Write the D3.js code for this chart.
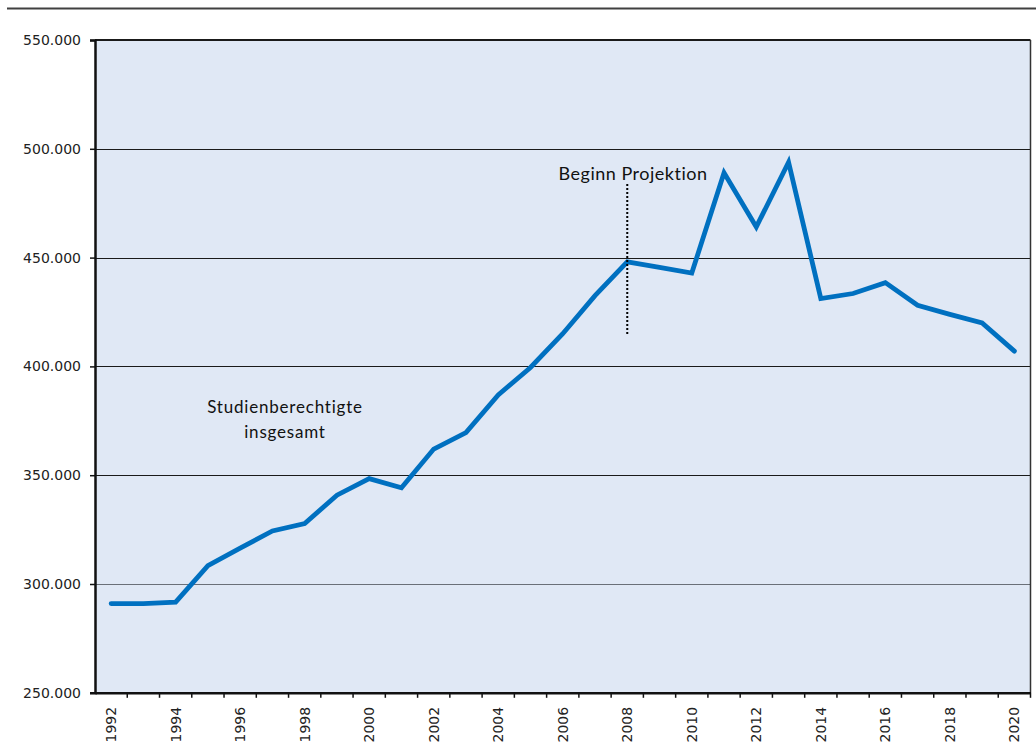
<!DOCTYPE html>
<html><head><meta charset="utf-8">
<script src="https://cdn.jsdelivr.net/npm/d3@7"></script>
<style>body{margin:0;background:#fff}svg{display:block}</style>
</head><body>
<svg id="c" width="1036" height="756"></svg>
<script>
const years = d3.range(1992, 2021).map(String);
const values = [291000, 291000, 291700, 308400, 316500, 324400, 327800, 340800, 348400, 344200,
  362000, 369600, 386900, 399500, 415000, 432500, 448000, 445500, 442900, 489000,
  464100, 493800, 431200, 433500, 438500, 428100, 423900, 420000, 407000];
const yTicks = [250000, 300000, 350000, 400000, 450000, 500000, 550000];
const labelYears = years.filter((d, i) => i % 2 === 0);
const projectionYear = "2008";
const annoSeries = ["Studienberechtigte", "insgesamt"];
const annoProj = "Beginn Projektion";

const svg = d3.select("#c");
const L = 95, R = 1030.5, T = 40, B = 692.8;
const x = d3.scaleBand().domain(years).range([L, R]);
const y = d3.scaleLinear().domain([250000, 550000]).range([B, T]);
const fmt = v => d3.format(",")(v).replace(/,/g, ".");

// top rule
svg.append("line").attr("x1", 7).attr("x2", 1036).attr("y1", 8.5).attr("y2", 8.5)
  .attr("stroke", "#404040").attr("stroke-width", 2);

// plot background
svg.append("rect").attr("x", L).attr("y", T).attr("width", R - L).attr("height", B - T)
  .attr("fill", "#E0E8F5");

// gridlines
svg.append("g").selectAll("line").data(yTicks.filter(v => v > 250000 && v < 550000)).join("line")
  .attr("x1", L).attr("x2", R).attr("y1", d => Math.round(y(d)) + 0.5).attr("y2", d => Math.round(y(d)) + 0.5)
  .attr("stroke", d => d === 300000 ? "#6a6f78" : "#1a1a1a").attr("stroke-width", 1);

// frame top & right
svg.append("line").attr("x1", L).attr("x2", R).attr("y1", T).attr("y2", T).attr("stroke", "#1a1a1a").attr("stroke-width", 2);
svg.append("line").attr("x1", R).attr("x2", R).attr("y1", T).attr("y2", B).attr("stroke", "#333", ).attr("stroke-width", 1.5);

// y axis
const yAxis = svg.append("g").attr("transform", `translate(${L},0)`)
  .call(d3.axisLeft(y).tickValues(yTicks).tickFormat(fmt).tickSize(5).tickPadding(9));
yAxis.select(".domain").attr("stroke", "#111").attr("stroke-width", 2.5);
yAxis.selectAll(".tick line").attr("stroke", "#111").attr("stroke-width", 1.5);
yAxis.selectAll("text").attr("font-family", "DejaVu Sans").attr("font-size", 14).attr("fill", "#222");

// x axis
const xAxis = svg.append("g").attr("transform", `translate(0,${B})`)
  .call(d3.axisBottom(x).tickSize(0).tickFormat(d => labelYears.includes(d) ? d : ""));
xAxis.select(".domain").attr("stroke", "#111").attr("stroke-width", 2.5);
xAxis.selectAll(".tick text")
  .attr("font-family", "DejaVu Sans").attr("font-size", 14).attr("fill", "#222")
  .attr("transform", "rotate(-90)").attr("text-anchor", "end")
  .attr("x", -14).attr("y", 0).attr("dy", "0.35em");
// boundary tick marks
svg.append("g").selectAll("line").data(years.slice(1).concat(["__end"])).join("line")
  .attr("x1", d => d === "__end" ? R : x(d)).attr("x2", d => d === "__end" ? R : x(d))
  .attr("y1", B).attr("y2", B + 5).attr("stroke", "#111").attr("stroke-width", 1.5);

// series line
const line = d3.line().x((d, i) => x(years[i]) + x.bandwidth() / 2).y(d => y(d));
svg.append("path").datum(values).attr("d", line).attr("fill", "none")
  .attr("stroke", "#0070C0").attr("stroke-width", 4.8).attr("stroke-linejoin", "miter").attr("stroke-linecap", "round");

// projection marker
const px = x(projectionYear) + x.bandwidth() / 2;
svg.append("line").attr("x1", px).attr("x2", px).attr("y1", 184).attr("y2", 336)
  .attr("stroke", "#000").attr("stroke-width", 2).attr("stroke-dasharray", "2,2");
svg.append("text").attr("x", 633).attr("y", 180).attr("text-anchor", "middle")
  .attr("font-family", "Lato").attr("font-size", 18).attr("letter-spacing", 0.5).attr("fill", "#111").text(annoProj);

// series annotation
svg.append("text").attr("text-anchor", "middle").attr("font-family", "Lato").attr("font-size", 17)
  .attr("letter-spacing", 0.8).attr("fill", "#111")
  .selectAll("tspan").data(annoSeries).join("tspan")
  .attr("x", 285).attr("y", (d, i) => 413 + i * 25).text(d => d);
</script>
</body></html>
